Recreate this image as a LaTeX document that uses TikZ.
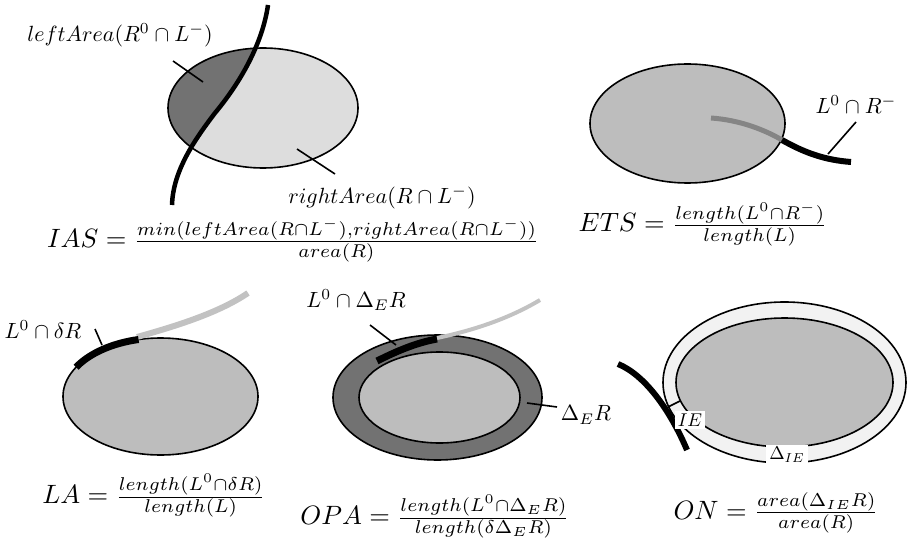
\documentclass[tikz,border=0pt]{standalone}
\definecolor{lightfill}{HTML}{DDDDDD}
\definecolor{midfill}{HTML}{BDBDBD}
\definecolor{darkfill}{HTML}{727272}
\definecolor{ringfill}{HTML}{F2F2F2}
\definecolor{grayline}{HTML}{858585}
\definecolor{paleline}{HTML}{C2C2C2}
\begin{document}
\begin{tikzpicture}[x=1pt,y=-1pt,
  outline/.style={draw=black,line width=1.6pt},
  lbl/.style={inner sep=1pt,scale=2.2},
  formula/.style={inner sep=0pt,scale=2.65},
  leader/.style={line width=1.6pt},
  boxlbl/.style={fill=white,inner sep=1.5pt,scale=1.85}]
\path[use as bounding box] (0,0) rectangle (910,540);

% ---------- IAS ----------
\fill[lightfill] (263,108) ellipse [x radius=95pt, y radius=60pt];
\begin{scope}
  \clip (263,108) ellipse [x radius=95pt, y radius=60pt];
  \fill[darkfill] (140,0) -- (268,5) .. controls (263,40) and (244,78) .. (215,113)
     .. controls (196,138) and (173,170) .. (172,205) -- (140,210) -- cycle;
\end{scope}
\draw[outline] (263,108) ellipse [x radius=95pt, y radius=60pt];
\draw[line width=4.5pt] (268,5) .. controls (263,40) and (244,78) .. (215,113)
     .. controls (196,138) and (173,170) .. (172,205);
\node[lbl] (lA) at (120,35) {$leftArea(R^0\cap L^-)$};
\coordinate (lA1) at (173,61); \coordinate (lA2) at (203,82);
\draw[leader] (lA1) -- (lA2);
\node[lbl] (rA) at (382,197) {$rightArea(R\cap L^-)$};
\coordinate (rA1) at (297,149); \coordinate (rA2) at (335,174);
\draw[leader] (rA1) -- (rA2);
\node[formula] (ias) at (293,240) {$IAS=\frac{min(leftArea(R\cap L^-),rightArea(R\cap L^-))}{area(R)}$};

% ---------- ETS ----------
\filldraw[fill=midfill,outline] (687.5,123.5) ellipse [x radius=97.5pt, y radius=59.5pt];
\coordinate (e1) at (711,118); \coordinate (e2) at (782,140); \coordinate (e3) at (851,162);
\draw[grayline,line width=5pt] (e1) .. controls (740,120) and (765,130) .. (e2);
\draw[line width=6pt] (e2) .. controls (805,153) and (825,160) .. (e3);
\node[lbl] (lr) at (856,105) {$L^0\cap R^-$};
\coordinate (lr1) at (828,154); \coordinate (lr2) at (856,122);
\draw[leader] (lr1) -- (lr2);
\node[formula] (ets) at (703,224) {$ETS=\frac{length(L^0\cap R^-)}{length(L)}$};

% ---------- LA ----------
\filldraw[fill=midfill,outline] (160.5,396.5) ellipse [x radius=97.5pt, y radius=58.5pt];
\draw[paleline,line width=6pt] (137,337) .. controls (180,325) and (220,312) .. (248,293);
\draw[line width=7pt] ([shift={(150:97.5pt and 58.5pt)}]160.5,396.5)
   arc [start angle=150, end angle=103, x radius=97.5pt, y radius=58.5pt];
\node[lbl] (ld) at (43,330) {$L^0\cap\delta R$};
\coordinate (ld1) at (95,329); \coordinate (ld2) at (102,345);
\draw[leader] (ld1) -- (ld2);
\node[formula] (la) at (154,496) {$LA=\frac{length(L^0\cap\delta R)}{length(L)}$};

% ---------- OPA ----------
\filldraw[fill=darkfill,outline] (437.5,397.5) ellipse [x radius=104.5pt, y radius=62.5pt];
\filldraw[fill=midfill,outline] (439.5,397.5) ellipse [x radius=80.5pt, y radius=45.5pt];
\draw[paleline,line width=4pt] (437,338) .. controls (475,330) and (510,318) .. (540,300);
\draw[line width=7pt] (377,361) .. controls (395,352) and (415,343) .. (437,339);
\node[lbl] (le) at (356,300) {$L^0\cap\Delta_E R$};
\coordinate (le1) at (370,325); \coordinate (le2) at (396,345);
\draw[leader] (le1) -- (le2);
\node[lbl] (de) at (586,415) {$\Delta_E R$};
\coordinate (de1) at (527,403); \coordinate (de2) at (557,407);
\draw[leader] (de1) -- (de2);
\node[formula] (opa) at (435,517) {$OPA=\frac{length(L^0\cap\Delta_E R)}{length(\delta\Delta_E R)}$};

% ---------- ON ----------
\filldraw[fill=ringfill,outline] (784.5,382.5) ellipse [x radius=121.5pt, y radius=80.5pt];
\filldraw[fill=midfill,outline] (784.5,382.5) ellipse [x radius=108.5pt, y radius=64.5pt];
\draw[line width=6pt] (618,364) .. controls (645,375) and (670,410) .. (687,450);
\coordinate (ie1) at (668,407); \coordinate (ie2) at (680,401);
\draw[leader] (ie1) -- (ie2);
\node[boxlbl] (ie) at (690,420) {$IE$};
\node[boxlbl] (die) at (787,455) {$\Delta_{IE}$};
\node[formula] (on) at (776,513) {$ON=\frac{area(\Delta_{IE}R)}{area(R)}$};
\end{tikzpicture}
\end{document}
